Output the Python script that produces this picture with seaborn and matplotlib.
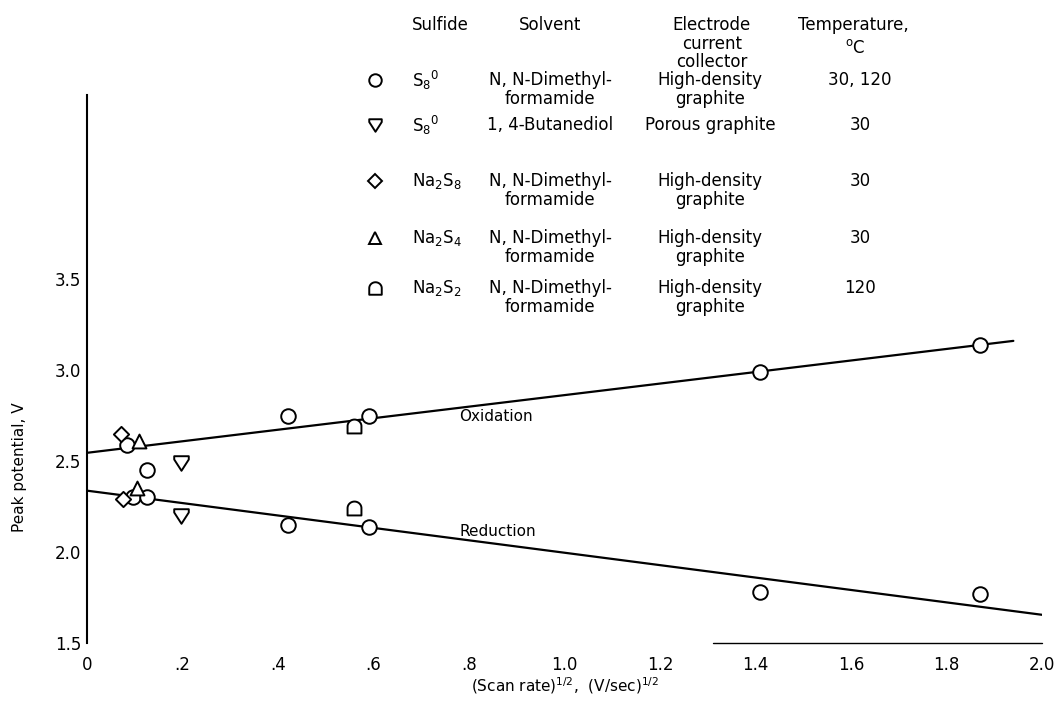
import numpy as np
import pandas as pd
import matplotlib
matplotlib.use("Agg")
import matplotlib.pyplot as plt
from matplotlib.path import Path
from matplotlib.lines import Line2D
import seaborn as sns

# ---------------- data ----------------
circle_x = [0.083, 0.125, 0.42, 0.59, 1.41, 1.87, 0.096, 0.125, 0.42, 0.59, 1.41, 1.87]
circle_y = [2.59, 2.45, 2.75, 2.75, 2.99, 3.14, 2.30, 2.30, 2.15, 2.14, 1.78, 1.77]
shield_x = [0.196, 0.196]
shield_y = [2.49, 2.20]
diamond_x = [0.071, 0.075]
diamond_y = [2.65, 2.29]
triangle_x = [0.109, 0.105]
triangle_y = [2.61, 2.35]
dome_x = [0.559, 0.559]
dome_y = [2.69, 2.24]

ox_line_x = [0.0, 1.94]
ox_line_y = [2.545, 3.16]
red_line_x = [0.0, 2.0]
red_line_y = [2.337, 1.655]

xticks = [0, 0.2, 0.4, 0.6, 0.8, 1.0, 1.2, 1.4, 1.6, 1.8, 2.0]
xticklabels = ["0", ".2", ".4", ".6", ".8", "1.0", "1.2", "1.4", "1.6", "1.8", "2.0"]
yticks = [1.5, 2.0, 2.5, 3.0, 3.5]
yticklabels = ["1.5", "2.0", "2.5", "3.0", "3.5"]

sulfide_labels = [r"$\mathregular{S_8}$$\mathregular{^0}$", r"$\mathregular{S_8}$$\mathregular{^0}$",
                  r"$\mathregular{Na_2S_8}$", r"$\mathregular{Na_2S_4}$", r"$\mathregular{Na_2S_2}$"]
solvent_labels = ["N, N-Dimethyl-\nformamide", "1, 4-Butanediol", "N, N-Dimethyl-\nformamide",
                  "N, N-Dimethyl-\nformamide", "N, N-Dimethyl-\nformamide"]
electrode_labels = ["High-density\ngraphite", "Porous graphite", "High-density\ngraphite",
                    "High-density\ngraphite", "High-density\ngraphite"]
temperature_labels = ["30, 120", "30", "30", "30", "120"]

# ---------------- marker shapes ----------------
shield = Path([(-1, 1), (1, 1), (1, 0.55), (0, -1), (-1, 0.55), (-1, 1)],
              [Path.MOVETO, Path.LINETO, Path.LINETO, Path.LINETO, Path.LINETO, Path.CLOSEPOLY])
t = np.linspace(0, np.pi, 30)
dome_verts = [(-1, -1), (1, -1)] + [(np.cos(a), 0.05 + 0.95 * np.sin(a)) for a in t] + [(-1, -1)]
dome = Path(dome_verts, [Path.MOVETO] + [Path.LINETO] * (len(dome_verts) - 2) + [Path.CLOSEPOLY])

# ---------------- style ----------------
sns.set_style("white")
plt.rcParams['font.family'] = ['DejaVu Sans']
for k in ["text.color", "axes.labelcolor", "xtick.color", "ytick.color", "axes.edgecolor"]:
    plt.rcParams[k] = "black"
big = 12
mid = 11

W, H = 1058, 702
fig = plt.figure(figsize=(W / 100, H / 100), dpi=100)
ax = fig.add_axes([87 / W, 1 - 643 / H, (1042 - 87) / W, (643 - 95) / H])

# fitted lines
sns.lineplot(x=ox_line_x, y=ox_line_y, color="black", lw=1.6, ax=ax, zorder=2)
sns.lineplot(x=red_line_x, y=red_line_y, color="black", lw=1.6, ax=ax, zorder=2)

groups = [
    (circle_x, circle_y, "o", 110),
    (shield_x, shield_y, shield, 110),
    (diamond_x, diamond_y, "D", 60),
    (triangle_x, triangle_y, "^", 100),
    (dome_x, dome_y, dome, 100),
]
for gx, gy, m, s in groups:
    sns.scatterplot(x=gx, y=gy, marker=m, s=s, color="white", edgecolor="black",
                    linewidth=1.4, ax=ax, zorder=3)

ax.text(0.78, 2.745, "Oxidation", fontsize=mid, ha="left", va="center")
ax.text(0.78, 2.11, "Reduction", fontsize=mid, ha="left", va="center")

ax.set_xlim(0, 2.0)
ax.set_ylim(1.5, 1.5 + 548 / 182)
ax.set_xticks(xticks)
ax.set_xticklabels(xticklabels, fontsize=big)
ax.set_yticks(yticks)
ax.set_yticklabels(yticklabels, fontsize=big)
ax.tick_params(axis="y", direction="in", length=17, width=1.3, pad=4)
ax.tick_params(axis="x", direction="in", length=17, width=1.3, pad=9)
for side in ["top", "right", "bottom"]:
    ax.spines[side].set_visible(False)
ax.spines["left"].set_linewidth(1.5)
ax.plot([1.31, 2.0], [1.5, 1.5], color="black", lw=1.0, clip_on=False)

ax.set_xlabel(r"(Scan rate)$^{\mathregular{1/2}}$,  (V/sec)$^{\mathregular{1/2}}$", fontsize=mid, labelpad=1)
ax.set_ylabel("")
fig.text(20 / W, 1 - 467 / H, "Peak potential, V", rotation=90, fontsize=mid, ha="center", va="center")

# ---------------- legend table ----------------
def T(px, py, s, ha="center", **kw):
    fig.text(px / W, 1 - py / H, s, ha=ha, va="center", fontsize=big, linespacing=1.2, **kw)

T(440, 25, "Sulfide")
T(550, 25, "Solvent")
fig.text(712 / W, 1 - 16 / H, "Electrode\ncurrent\ncollector", ha="center", va="top",
         fontsize=big, linespacing=1.05)
T(853, 25, "Temperature,")
T(855, 48, r"$^{\mathregular{o}}$C")

row_y = [80, 125, 181, 238, 288]
markers = ["o", shield, "D", "^", dome]
msizes = [10, 10, 8, 10, 10]
for i, yy in enumerate(row_y):
    mk = Line2D([375 / W], [1 - yy / H], marker=markers[i], markersize=msizes[i] * 0.9,
                markerfacecolor="white", markeredgecolor="black", markeredgewidth=1.4,
                linestyle="none", transform=fig.transFigure)
    fig.add_artist(mk)
    T(412, yy, sulfide_labels[i], ha="left")
    fig.text(550 / W, 1 - (yy - 9) / H, solvent_labels[i], ha="center", va="top",
             fontsize=big, linespacing=1.1)
    fig.text(710 / W, 1 - (yy - 9) / H, electrode_labels[i], ha="center", va="top",
             fontsize=big, linespacing=1.1)
    T(860, yy, temperature_labels[i])

fig.savefig("out.png", dpi=100)
